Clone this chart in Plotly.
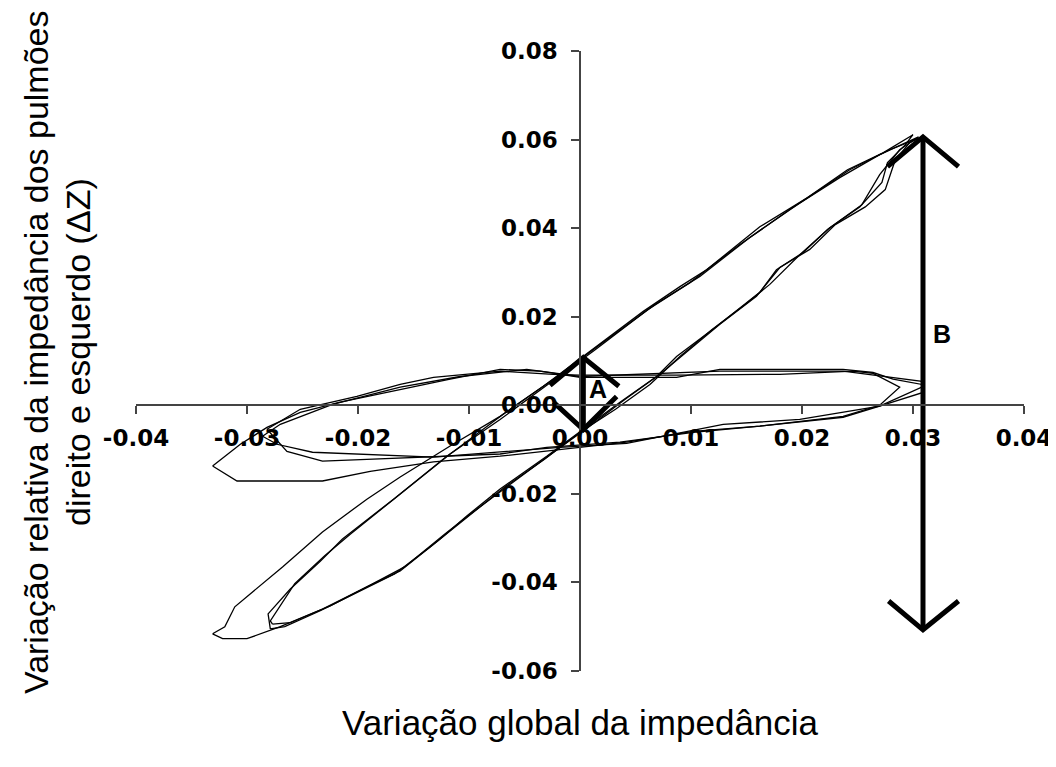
import plotly.graph_objects as go

# ---------------- axis ticks ----------------
x_ticks = [-0.04, -0.03, -0.02, -0.01, 0.0, 0.01, 0.02, 0.03, 0.04]
x_tick_labels = ["-0.04", "-0.03", "-0.02", "-0.01", "0.00", "0.01", "0.02", "0.03", "0.04"]
y_ticks = [-0.06, -0.04, -0.02, 0.0, 0.02, 0.04, 0.06, 0.08]
y_tick_labels = ["-0.06", "-0.04", "-0.02", "0.00", "0.02", "0.04", "0.06", "0.08"]

# ---------------- steep (diagonal) loops: three breathing cycles ----------------
diag1_x = [-0.0331, -0.0320, -0.0311, -0.0268, -0.0232, -0.0192, -0.0162, -0.0117, -0.0072, -0.0033,
           0.0009, 0.0057, 0.0090, 0.0114, 0.0162, 0.0205, 0.0241, 0.0273, 0.0300,
           0.0293, 0.0277, 0.0272, 0.0252, 0.0223, 0.0201, 0.0177, 0.0162, 0.0123, 0.0087,
           0.0069, 0.0036, 0.0003, -0.0030, -0.0072, -0.0102, -0.0126, -0.0162, -0.0192,
           -0.0232, -0.0270, -0.0300, -0.0322, -0.0331]
diag1_y = [-0.0516, -0.0500, -0.0455, -0.0365, -0.0286, -0.0212, -0.0162, -0.0092, -0.0025, 0.0043,
           0.0122, 0.0212, 0.0268, 0.0306, 0.0403, 0.0469, 0.0532, 0.0570, 0.0611,
           0.0588, 0.0548, 0.0503, 0.0448, 0.0397, 0.0345, 0.0306, 0.0255, 0.0178, 0.0110,
           0.0065, 0.0007, -0.0054, -0.0115, -0.0189, -0.0250, -0.0302, -0.0374, -0.0410,
           -0.0460, -0.0500, -0.0527, -0.0527, -0.0516]

diag2_x = [-0.0279, -0.0281, -0.0261, -0.0234, -0.0214, -0.0168, -0.0120, -0.0072, -0.0029, 0.0014,
           0.0061, 0.0099, 0.0144, 0.0189, 0.0234, 0.0270, 0.0305,
           0.0288, 0.0270, 0.0254, 0.0225, 0.0198, 0.0171, 0.0149, 0.0119, 0.0090, 0.0063,
           0.0032, 0.0000, -0.0032, -0.0068, -0.0104, -0.0135, -0.0167, -0.0198, -0.0234,
           -0.0266, -0.0279]
diag2_y = [-0.0505, -0.0471, -0.0415, -0.0352, -0.0302, -0.0212, -0.0115, -0.0032, 0.0047, 0.0126,
           0.0216, 0.0277, 0.0363, 0.0442, 0.0514, 0.0566, 0.0606,
           0.0577, 0.0521, 0.0453, 0.0401, 0.0340, 0.0273, 0.0228, 0.0171, 0.0110, 0.0047,
           -0.0009, -0.0061, -0.0122, -0.0185, -0.0257, -0.0320, -0.0381, -0.0419, -0.0464,
           -0.0500, -0.0505]

diag3_x = [-0.0277, -0.0279, -0.0257, -0.0230, -0.0207, -0.0162, -0.0117, -0.0068, -0.0024, 0.0018,
           0.0068, 0.0108, 0.0153, 0.0198, 0.0243, 0.0279, 0.0306,
           0.0297, 0.0284, 0.0275, 0.0257, 0.0230, 0.0207, 0.0180, 0.0159, 0.0126, 0.0099,
           0.0072, 0.0041, 0.0009, -0.0025, -0.0063, -0.0099, -0.0122, -0.0158, -0.0189,
           -0.0225, -0.0261, -0.0277]
diag3_y = [-0.0494, -0.0487, -0.0403, -0.0340, -0.0291, -0.0201, -0.0110, -0.0018, 0.0059, 0.0137,
           0.0228, 0.0291, 0.0379, 0.0457, 0.0532, 0.0577, 0.0604,
           0.0593, 0.0554, 0.0487, 0.0448, 0.0408, 0.0352, 0.0311, 0.0246, 0.0183, 0.0126,
           0.0070, 0.0014, -0.0047, -0.0108, -0.0178, -0.0246, -0.0291, -0.0365, -0.0406,
           -0.0453, -0.0491, -0.0494]

# ---------------- flat loops: three breathing cycles ----------------
flat1_x = [-0.0331, -0.0306, -0.0282, -0.0252, -0.0216, -0.0162, -0.0117, -0.0072, -0.0036, 0.0000,
           0.0087, 0.0126, 0.0162, 0.0237, 0.0264, 0.0282, 0.0308,
           0.0308, 0.0270, 0.0237, 0.0162, 0.0102, 0.0042, -0.0018, -0.0072, -0.0132, -0.0189,
           -0.0232, -0.0309, -0.0331]
flat1_y = [-0.0137, -0.0088, -0.0050, -0.0016, 0.0007, 0.0036, 0.0059, 0.0081, 0.0077, 0.0063,
           0.0063, 0.0081, 0.0081, 0.0081, 0.0074, 0.0059, 0.0047,
           0.0041, -0.0002, -0.0027, -0.0047, -0.0059, -0.0083, -0.0099, -0.0115, -0.0128, -0.0149,
           -0.0171, -0.0171, -0.0137]

flat2_x = [-0.0282, -0.0252, -0.0201, -0.0162, -0.0132, -0.0072, -0.0024, 0.0000, 0.0087, 0.0180,
           0.0246, 0.0264, 0.0288,
           0.0270, 0.0237, 0.0162, 0.0102, 0.0036, -0.0030, -0.0072, -0.0192, -0.0232, -0.0264,
           -0.0282]
flat2_y = [-0.0054, -0.0009, 0.0020, 0.0047, 0.0063, 0.0077, 0.0070, 0.0068, 0.0068, 0.0070,
           0.0077, 0.0072, 0.0041,
           0.0000, -0.0025, -0.0047, -0.0061, -0.0083, -0.0095, -0.0110, -0.0122, -0.0126, -0.0104,
           -0.0054]

flat3_x = [-0.0286, -0.0270, -0.0223, -0.0162, -0.0108, -0.0048, 0.0000, 0.0126, 0.0237, 0.0308,
           0.0309, 0.0270, 0.0198, 0.0129, 0.0042, -0.0018, -0.0132, -0.0241, -0.0273, -0.0286]
flat3_y = [-0.0070, -0.0043, 0.0002, 0.0041, 0.0065, 0.0081, 0.0065, 0.0077, 0.0077, 0.0054,
           0.0029, -0.0002, -0.0032, -0.0043, -0.0086, -0.0095, -0.0117, -0.0106, -0.0088, -0.0070]

# ---------------- amplitude arrows A and B ----------------
arrow_a_shaft_x = [0.0003, 0.0003]
arrow_a_shaft_y = [-0.0055, 0.0108]
arrow_a_top_x = [-0.0027, 0.0003, 0.0035]
arrow_a_top_y = [0.0045, 0.0108, 0.0043]
arrow_a_bot_x = [-0.0024, 0.0003, 0.0033]
arrow_a_bot_y = [0.0007, -0.0055, 0.0020]

arrow_b_shaft_x = [0.0309, 0.0309]
arrow_b_shaft_y = [-0.0507, 0.0606]
arrow_b_top_x = [0.0277, 0.0309, 0.0341]
arrow_b_top_y = [0.0539, 0.0606, 0.0539]
arrow_b_bot_x = [0.0278, 0.0309, 0.0341]
arrow_b_bot_y = [-0.0442, -0.0507, -0.0442]

label_a = (0.0016, 0.0036)
label_b = (0.0326, 0.0160)

fig = go.Figure()

loop_line = dict(color="black", width=1.3)
for xs, ys in [(diag1_x, diag1_y), (diag2_x, diag2_y), (diag3_x, diag3_y),
               (flat1_x, flat1_y), (flat2_x, flat2_y), (flat3_x, flat3_y)]:
    fig.add_trace(go.Scatter(x=xs, y=ys, mode="lines", line=loop_line, hoverinfo="skip"))

arrow_line = dict(color="black", width=5)
for xs, ys in [(arrow_a_shaft_x, arrow_a_shaft_y), (arrow_a_top_x, arrow_a_top_y),
               (arrow_a_bot_x, arrow_a_bot_y), (arrow_b_shaft_x, arrow_b_shaft_y),
               (arrow_b_top_x, arrow_b_top_y), (arrow_b_bot_x, arrow_b_bot_y)]:
    fig.add_trace(go.Scatter(x=xs, y=ys, mode="lines", line=arrow_line, hoverinfo="skip"))

tick_font = dict(family="DejaVu Sans", size=23, color="black", weight="bold")
axis_col = "#444444"

fig.update_layout(
    width=1056, height=767,
    margin=dict(l=128, r=40, t=43, b=104, autoexpand=False),
    plot_bgcolor="white", paper_bgcolor="white",
    showlegend=False,
    xaxis=dict(range=[-0.04, 0.04], anchor="free", position=3 / 7, automargin=False,
               showline=True, linecolor=axis_col, linewidth=1.5,
               ticks="outside", ticklen=8, tickwidth=1.5, tickcolor=axis_col,
               tickvals=x_ticks, ticktext=x_tick_labels, tickfont=tick_font,
               ticklabelstandoff=4,
               showgrid=False, zeroline=False),
    yaxis=dict(range=[-0.06, 0.08], anchor="free", position=0.5, automargin=False,
               showline=True, linecolor=axis_col, linewidth=1.5,
               ticks="outside", ticklen=8, tickwidth=1.5, tickcolor=axis_col,
               tickvals=y_ticks, ticktext=y_tick_labels, tickfont=tick_font,
               ticklabelstandoff=9,
               showgrid=False, zeroline=False),
)

title_font = dict(family="Liberation Sans, Arial", size=35, color="black")
ytitle_font = dict(family="Liberation Sans, Arial", size=34, color="black")
fig.add_annotation(text="Variação global da impedância", xref="paper", yref="paper",
                   x=0.501, y=-0.0823, xanchor="center", yanchor="middle",
                   showarrow=False, font=title_font)
fig.add_annotation(text="Variação relativa da impedância dos pulmões", xref="paper", yref="paper",
                   x=-0.1126, y=0.5145, xanchor="center", yanchor="middle",
                   textangle=-90, showarrow=False, font=ytitle_font)
fig.add_annotation(text="direito e esquerdo (ΔZ)", xref="paper", yref="paper",
                   x=-0.0653, y=0.5145, xanchor="center", yanchor="middle",
                   textangle=-90, showarrow=False, font=ytitle_font)

lab_font = dict(family="Liberation Sans, Arial", size=25, color="black", weight="bold")
fig.add_annotation(text="A", x=label_a[0], y=label_a[1], showarrow=False, font=lab_font)
fig.add_annotation(text="B", x=label_b[0], y=label_b[1], showarrow=False, font=lab_font)

fig.write_html("out.html")
